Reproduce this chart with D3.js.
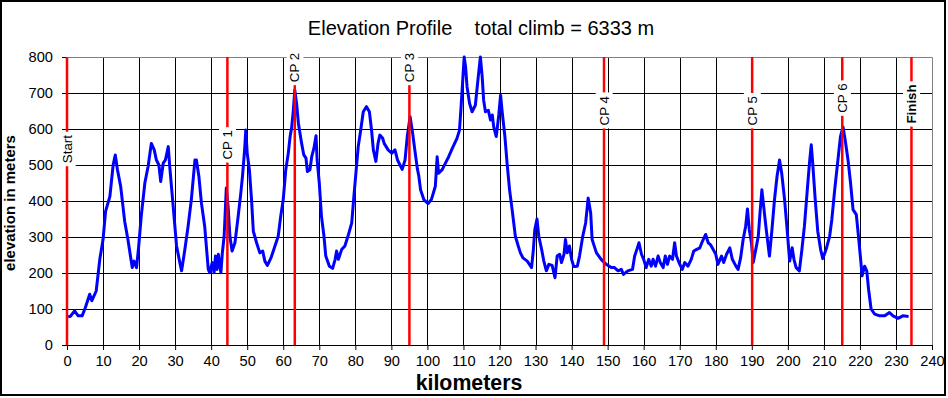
<!DOCTYPE html>
<html>
<head>
<meta charset="utf-8">
<script src="https://cdn.jsdelivr.net/npm/d3@7"></script>
<style>
  body { margin: 0; background: #fff; }
  text { font-family: "Liberation Sans", Arial, sans-serif; }
</style>
</head>
<body>
<script>
// profile: distance (km) and elevation (m)
var distKm = [0.3,1.0,2.1,3.1,4.2,5.1,6.3,6.9,8.1,9.1,10,10.7,11.9,12.8,13.4,14,14.9,16,16.9,18.1,18.6,19.3,19.9,20.6,21.6,22.5,23.4,24.2,24.8,25.5,26,26.7,27.3,28.1,28.5,29.3,30.4,31.3,31.8,32.7,33.6,34.5,35.5,35.9,36.6,37.3,38.2,39.2,39.6,40.3,40.8,41.2,41.6,42,42.4,42.7,43.1,43.6,44.2,44.7,45.2,45.8,46.6,47.5,48.2,48.7,49.3,49.6,50,50.6,51.2,51.7,52.6,53.5,54.3,54.9,55.6,56.6,57.7,58.6,59.3,60,60.7,61.4,61.9,62.3,62.8,63.2,63.7,64.2,65.1,65.7,66.3,66.7,67.4,67.9,68.5,69.1,69.4,70,70.6,71.3,71.8,72.8,73.7,74.4,74.8,75.3,76.2,77.1,78.1,79,79.6,80.4,80.8,81.5,82.2,83.1,83.9,84.5,85,85.7,86.3,86.8,87.6,88,89.1,90.1,91,91.7,92.4,93,93.8,94.4,95.2,95.9,96.5,97.2,97.6,98.1,99,100.2,101.1,102.2,102.7,103.1,104.1,105,105.9,106.9,108.2,108.9,109.4,109.8,110.2,110.6,111,111.7,112.4,113.3,114.1,114.7,115.2,115.6,116.1,116.9,117.5,118,118.4,119.1,119.8,120.3,120.7,121.5,122.1,122.8,123.5,124.4,125.2,125.8,126.5,127.7,128.9,129.4,129.8,130.4,130.9,131.7,132.3,133,133.7,134.6,135.4,136,136.7,137.2,137.9,138.3,138.8,139.4,140,140.6,141.6,142.2,143.1,143.9,144.6,145.3,145.7,146.9,148.2,149.6,151,151.9,152.9,153.8,154.4,155.6,156.9,157.5,158.1,158.7,159.4,160,160.7,161.4,162.1,162.6,163.3,164,164.6,165.4,166,166.6,167.2,168,168.6,169.1,169.8,170.7,171.4,172.3,173.2,173.9,174.6,175.6,176.3,177.2,177.9,178.5,179.3,180,180.6,181.6,182.2,183,183.9,184.6,185.6,186.2,186.9,187.6,188.3,188.8,189.3,189.9,190.4,191.1,191.8,192.3,192.8,193.3,194,194.9,195.6,196.3,197,197.7,198.3,199.1,199.8,200.5,201.2,201.7,202.3,203.2,203.9,204.6,205.4,206,206.5,206.9,207.6,208.3,209.1,209.7,210.6,211.6,212.2,213,213.9,214.6,215.3,215.9,216.7,217.4,218.1,219,219.6,220.2,220.6,221.3,221.9,222.4,223.1,224.1,225.5,226.9,228.2,229.2,230.6,231.9,233.5];
var elevM = [78,80,95,81,81,104,141,123,150,238,293,371,413,500,528,487,440,344,293,215,233,215,275,358,450,496,560,542,514,500,454,505,514,551,496,404,275,229,206,265,330,404,514,514,468,394,330,210,201,229,201,247,210,252,219,201,256,302,436,385,302,261,284,358,420,470,545,597,533,487,404,316,284,256,261,233,221,242,275,302,358,404,487,533,579,602,652,708,671,616,560,528,519,482,487,523,546,581,514,450,358,302,247,219,213,238,261,238,265,275,307,339,413,505,551,597,648,662,648,597,542,510,560,583,574,560,542,533,542,514,500,488,514,579,634,588,542,490,470,431,404,393,404,441,523,477,487,505,523,546,574,597,671,735,800,772,717,671,648,666,745,800,745,680,648,652,625,639,606,579,639,694,652,579,505,431,376,302,275,256,242,233,215,265,321,350,302,265,233,206,224,221,187,247,252,229,252,293,256,275,238,218,219,247,302,339,408,367,293,256,238,224,215,215,206,210,196,206,210,247,265,284,252,238,215,238,219,238,219,247,229,215,247,224,247,238,284,247,229,210,229,219,238,261,265,270,288,307,284,279,265,252,224,247,229,252,270,238,219,210,242,293,330,378,321,284,229,265,302,370,431,385,321,247,321,404,468,514,477,404,321,233,270,238,215,206,265,330,431,505,556,505,404,316,265,240,265,302,348,431,514,579,606,570,514,450,376,362,302,238,192,219,206,155,100,86,81,81,90,81,74,81,79];

// checkpoints
var cpNames = ["Start", "CP 1", "CP 2", "CP 3", "CP 4", "CP 5", "CP 6", "Finish"];
var cpKm = [0, 44.5, 63.2, 95.0, 149.0, 190.1, 215.1, 234.3];
var cpLabelElev = [505, 515, 730, 730, 610, 610, 645, 615];

var xTicks = d3.range(0, 241, 10);
var yTicks = d3.range(0, 801, 100);

var W = 948, H = 398;
var m = {left: 67, right: 16, top: 57, bottom: 53};
var pw = W - m.left - m.right, ph = H - m.top - m.bottom;

var svg = d3.select("body").append("svg")
    .attr("width", W).attr("height", H);

// chart border
svg.append("rect")
    .attr("x", 1).attr("y", 1).attr("width", 944).attr("height", 394)
    .attr("fill", "#fff").attr("stroke", "#000").attr("stroke-width", 2);

var x = d3.scaleLinear().domain([0, 240]).range([0, pw]);
var y = d3.scaleLinear().domain([0, 800]).range([ph, 0]);

var g = svg.append("g").attr("transform", "translate(" + m.left + "," + m.top + ")");

// gridlines
g.selectAll(".hg").data(yTicks.filter(function(d) { return d > 0 && d < 800; }))
  .enter().append("line")
    .attr("x1", 0).attr("x2", pw)
    .attr("y1", function(d) { return Math.round(y(d)) + 0.5; })
    .attr("y2", function(d) { return Math.round(y(d)) + 0.5; })
    .attr("stroke", "#000").attr("stroke-width", 1);
g.selectAll(".vg").data(xTicks.filter(function(d) { return d > 0 && d < 240; }))
  .enter().append("line")
    .attr("y1", 0).attr("y2", ph)
    .attr("x1", function(d) { return Math.round(x(d)) + 0.5; })
    .attr("x2", function(d) { return Math.round(x(d)) + 0.5; })
    .attr("stroke", "#000").attr("stroke-width", 1);

// gray top + right border of plot area
g.append("path")
    .attr("d", "M0,0.5H" + (pw + 0.5) + "V" + ph)
    .attr("fill", "none").attr("stroke", "#808080").attr("stroke-width", 1);

// axes
var xAxis = g.append("g").attr("transform", "translate(0," + ph + ")")
    .call(d3.axisBottom(x).tickValues(xTicks).tickSize(5).tickSizeOuter(0).tickPadding(6));
var yAxis = g.append("g")
    .call(d3.axisLeft(y).tickValues(yTicks).tickSize(5).tickSizeOuter(0).tickPadding(9));
[xAxis, yAxis].forEach(function(a) {
  a.selectAll("path, line").attr("stroke", "#000").attr("stroke-width", 1);
  a.selectAll("text").attr("font-size", "14.67px").attr("fill", "#000")
    .attr("font-family", "'Liberation Sans', Arial, sans-serif");
});

// elevation line
var line = d3.line()
    .x(function(d, i) { return x(distKm[i]); })
    .y(function(d) { return y(d); });
g.append("path")
    .datum(elevM)
    .attr("d", line)
    .attr("fill", "none")
    .attr("stroke", "#0000ff")
    .attr("stroke-width", 3)
    .attr("stroke-linejoin", "round");

// checkpoint lines
g.selectAll(".cp").data(cpKm).enter().append("line")
    .attr("x1", function(d) { return x(d); }).attr("x2", function(d) { return x(d); })
    .attr("y1", 0).attr("y2", ph)
    .attr("stroke", "#ff0000").attr("stroke-width", 2.5);

// checkpoint labels with white box
var lab = g.selectAll(".cpl").data(cpNames).enter().append("g")
    .attr("transform", function(d, i) {
      return "translate(" + x(cpKm[i]) + "," + y(cpLabelElev[i]) + ") rotate(-90)";
    });
lab.append("text")
    .attr("x", 0).attr("y", 0).attr("dy", "0.35em")
    .attr("font-size", "13.33px")
    .attr("font-weight", function(d) { return d == "Finish" ? "bold" : "normal"; })
    .text(function(d) { return d; });
lab.each(function() {
  var t = d3.select(this).select("text");
  var b = t.node().getBBox();
  d3.select(this).insert("rect", "text")
    .attr("x", b.x - 3).attr("y", b.y - 1)
    .attr("width", b.width + 6).attr("height", b.height + 2)
    .attr("fill", "#fff");
});

// titles
svg.append("text")
    .attr("x", 481).attr("y", 35)
    .attr("text-anchor", "middle")
    .attr("font-size", "20px")
    .style("white-space", "pre")
    .text("Elevation Profile    total climb = 6333 m");

svg.append("text")
    .attr("x", 469).attr("y", 390)
    .attr("text-anchor", "middle")
    .attr("font-size", "21.33px").attr("font-weight", "bold")
    .text("kilometers");

svg.append("text")
    .attr("transform", "translate(15,203) rotate(-90)")
    .attr("text-anchor", "middle")
    .attr("font-size", "15px").attr("font-weight", "bold")
    .text("elevation in meters");
</script>
</body>
</html>
